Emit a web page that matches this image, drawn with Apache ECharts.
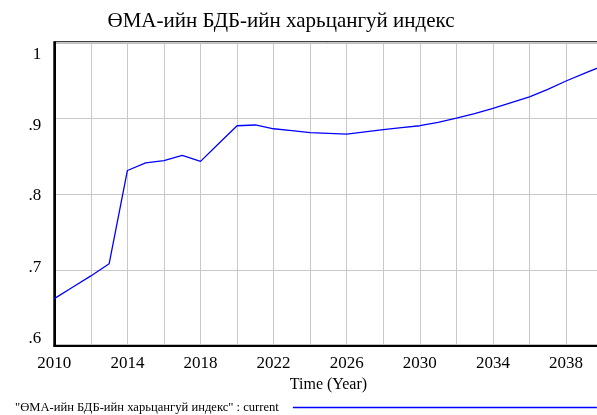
<!DOCTYPE html>
<html>
<head>
<meta charset="utf-8">
<script src="https://cdn.jsdelivr.net/npm/echarts@6/dist/echarts.min.js"></script>
<style>
html,body{margin:0;padding:0;background:#fff;}
#chart{width:597px;height:415px;}
</style>
</head>
<body>
<div id="chart"></div>
<script>
const titleText = 'ӨМА-ийн БДБ-ийн харьцангуй индекс';
const seriesName = '"ӨМА-ийн БДБ-ийн харьцангуй индекс" : current';
const xAxisName = 'Time (Year)';
const years = [2010,2011,2012,2013,2014,2015,2016,2017,2018,2019,2020,2021,2022,2023,2024,2025,2026,2027,2028,2029,2030,2031,2032,2033,2034,2035,2036,2037,2038,2039,2040];
const values = [0.662,0.677,0.692,0.708,0.831,0.841,0.844,0.851,0.843,0.8665,0.890,0.891,0.886,0.8835,0.881,0.880,0.879,0.882,0.885,0.8875,0.890,0.8945,0.900,0.906,0.913,0.9205,0.928,0.938,0.949,0.959,0.9688];
const yTickLabels = ['.6','.7','.8','.9','1'];

const FONT = "'Liberation Serif','Times New Roman',serif";
const chart = echarts.init(document.getElementById('chart'), null, {renderer:'canvas'});
const data = years.map((y,i)=>[y, values[i]]);

chart.setOption({
  animation:false,
  backgroundColor:'#fff',
  title:{
    text:titleText,
    left:276, top:6, textAlign:'center',
    textStyle:{fontFamily:FONT,fontSize:21,fontWeight:'normal',color:'#000'}
  },
  legend:{
    left:10, top:396,
    align:'right',
    itemWidth:304, itemHeight:1.5, itemGap:0,
    data:[{name:seriesName, icon:'rect', itemStyle:{color:'#0000ff'}}],
    textStyle:{fontFamily:FONT,fontSize:12.6,color:'#000',padding:[0,9,0,0]}
  },
  grid:{left:54.3, top:42.3, right:-5.6, bottom:69.3, show:true, borderColor:'#000', borderWidth:2, containLabel:false, outerBoundsMode:'none'},
  xAxis:{
    type:'value', min:2010, max:2040, interval:2,
    name:xAxisName, nameLocation:'middle', nameGap:30,
    nameTextStyle:{fontFamily:FONT,fontSize:16,color:'#000'},
    axisLine:{show:true,lineStyle:{color:'#000',width:2}},
    axisTick:{show:false},
    splitLine:{show:true,lineStyle:{color:'#c8c8c8',width:1}},
    axisLabel:{
      margin:9, fontFamily:FONT, fontSize:17, color:'#000',
      formatter:(v)=> ((v-2010)%4===0 ? String(v) : '')
    }
  },
  yAxis:{
    type:'value', min:0.6, max:1.0, interval:0.1,
    axisLine:{show:true,lineStyle:{color:'#000',width:2}},
    axisTick:{show:false},
    splitLine:{show:true,lineStyle:{color:'#c8c8c8',width:1}},
    axisLabel:{
      margin:13, fontFamily:FONT, fontSize:17, color:'#000',
      formatter:(v)=>{ const i=Math.round((v-0.6)*10); return '{l'+i+'|'+yTickLabels[i]+'}'; },
      rich:{
        l0:{fontFamily:FONT,fontSize:17,color:'#000',padding:[0,0,15,0]},
        l1:{fontFamily:FONT,fontSize:17,color:'#000',padding:[0,0,4,0]},
        l2:{fontFamily:FONT,fontSize:17,color:'#000',padding:[4,0,0,0]},
        l3:{fontFamily:FONT,fontSize:17,color:'#000',padding:[14,0,0,0]},
        l4:{fontFamily:FONT,fontSize:17,color:'#000',padding:[25,0,0,0]}
      }
    }
  },
  series:[{
    name:seriesName, type:'line', data:data, symbol:'none',
    lineStyle:{color:'#0000ff',width:1.3},
    itemStyle:{color:'#0000ff'},
    clip:true
  }]
});
</script>
</body>
</html>
